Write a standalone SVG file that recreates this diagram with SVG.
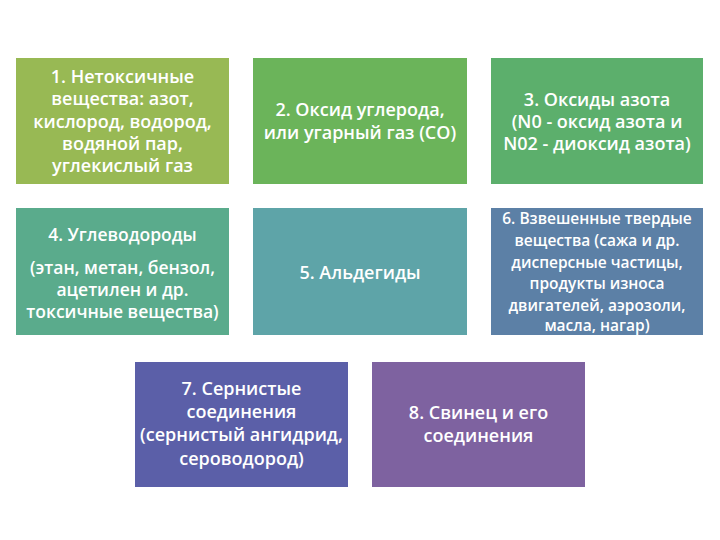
<svg xmlns="http://www.w3.org/2000/svg" width="720" height="540" viewBox="0 0 720 540">
<style>
text{font-family:"Open Sans","Noto Sans","Liberation Sans",sans-serif;font-size:18px;font-weight:600;fill:#fff;text-anchor:middle}
.s{font-size:15.5px}
.m{font-size:17.5px}
</style>
<rect width="720" height="540" fill="#fff"/>
<g id="n1"><rect x="16" y="58" width="213" height="126" fill="#98b954"/>
<text x="122.5" y="83">1. Нетоксичные</text><text x="122.5" y="105">вещества: азот,</text><text x="122.5" y="128">кислород, водород,</text><text x="122.5" y="150">водяной пар,</text><text x="122.5" y="172">углекислый газ</text></g>
<g id="n2"><rect x="253" y="58" width="214" height="126" fill="#6bb45a"/>
<text x="360" y="116">2. Оксид углерода,</text><text x="360" y="139">или угарный газ (CO)</text></g>
<g id="n3"><rect x="491" y="58" width="212" height="126" fill="#5caf6c"/>
<text x="597" y="106">3. Оксиды азота</text><text x="597" y="128">(N0 - оксид азота и</text><text x="597" y="150">N02 - диоксид азота)</text></g>
<g id="n4"><rect x="16" y="208" width="213" height="127" fill="#5aab8c"/>
<text class="m" x="122.5" y="241">4. Углеводороды</text><text class="m" x="122.5" y="274">(этан, метан, бензол,</text><text class="m" x="122.5" y="296">ацетилен и др.</text><text class="m" x="122.5" y="318">токсичные вещества)</text></g>
<g id="n5"><rect x="253" y="208" width="214" height="127" fill="#5ea4a8"/>
<text x="360" y="279">5. Альдегиды</text></g>
<g id="n6"><rect x="491" y="208" width="212" height="127" fill="#5c80a6"/>
<text class="s" x="597" y="224">6. Взвешенные твердые</text><text class="s" x="597" y="246">вещества (сажа и др.</text><text class="s" x="597" y="268">дисперсные частицы,</text><text class="s" x="597" y="289">продукты износа</text><text class="s" x="597" y="311">двигателей, аэрозоли,</text><text class="s" x="597" y="331">масла, нагар)</text></g>
<g id="n7"><rect x="135" y="362" width="213" height="125" fill="#5b5fa8"/>
<text x="241.5" y="395">7. Сернистые</text><text x="241.5" y="418">соединения</text><text x="241.5" y="441">(сернистый ангидрид,</text><text x="241.5" y="465">сероводород)</text></g>
<g id="n8"><rect x="372" y="362" width="213" height="125" fill="#7e62a0"/>
<text x="478.5" y="419">8. Свинец и его</text><text x="478.5" y="442">соединения</text></g>
<g id="connectors"/>
</svg>
